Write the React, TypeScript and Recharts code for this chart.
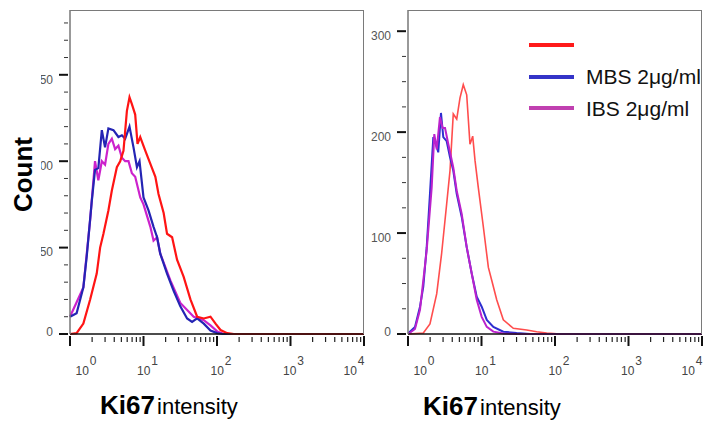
import { LineChart, Line, XAxis, YAxis, Legend } from "recharts";

// x ticks on the log intensity axis (decades + minor ticks)
const xTicks = [
  1, 2, 3, 4, 5, 6, 7, 8, 9,
  10, 20, 30, 40, 50, 60, 70, 80, 90,
  100, 200, 300, 400, 500, 600, 700, 800, 900,
  1000, 2000, 3000, 4000, 5000, 6000, 7000, 8000, 9000,
  10000,
];
const decades = [1, 10, 100, 1000, 10000];
const exponents = ["0", "1", "2", "3", "4"];

const leftYTicks = [0, 10, 20, 30, 40, 50, 60, 70, 80, 90, 100, 110, 120, 130, 140, 150, 160, 170, 180];
const leftYMajor = [0, 50, 100, 150];
const rightYTicks = [0, 25, 50, 75, 100, 125, 150, 175, 200, 225, 250, 275, 300];
const rightYMajor = [0, 100, 200, 300];

const seriesNames = ["", "MBS 2μg/ml", "IBS 2μg/ml"];

// left panel
const leftRedIntensity = [1.0, 1.23, 1.52, 1.88, 2.31, 2.57, 2.85, 3.33, 3.71, 4.34, 4.82, 5.34, 5.94, 6.45, 6.95, 7.71, 8.29, 9.03, 10.6, 12.4, 14.5, 16.0, 18.8, 20.9, 24.5, 28.6, 35.2, 43.5, 53.7, 66.1, 81.5, 95.5, 111.7, 137.8, 169.6, 1000, 10000];
const leftRedCount = [0, 0.5, 6, 20, 35, 50, 58, 71.5, 83, 96.5, 100, 106, 129, 137, 133, 127, 110, 114, 106, 98.5, 91, 81, 70, 58, 56, 43, 33, 20, 10, 9, 10, 6, 2.3, 0.5, 0, 0, 0];

const leftBlueIntensity = [1.0, 1.23, 1.52, 1.69, 1.98, 2.19, 2.43, 2.71, 3.0, 3.33, 3.9, 4.56, 5.08, 5.63, 6.45, 7.31, 8.14, 8.83, 10.0, 11.7, 13.7, 15.3, 16.9, 20.9, 25.7, 31.7, 39.2, 45.8, 53.7, 66.1, 81.5, 100.7, 120, 1000, 10000];
const leftBlueCount = [10, 12, 27, 45, 77, 95, 96, 118, 108, 119, 118, 114, 115, 113, 120, 108, 96.5, 100, 79, 71.5, 62, 56, 46.5, 35, 25, 16, 9, 7, 9, 6, 2, 0.5, 0, 0, 0];

const leftMagentaIntensity = [1.0, 1.52, 1.88, 2.19, 2.43, 2.71, 3.0, 3.33, 3.71, 4.11, 4.56, 5.08, 5.63, 6.25, 6.95, 7.71, 9.03, 10.0, 12.4, 13.7, 15.3, 16.9, 23.2, 31.7, 48.2, 66.1, 81.5, 100.7, 123.9, 1000, 10000];
const leftMagentaCount = [10, 27, 66, 100, 89, 100, 98, 110, 113, 107, 109, 102, 100, 100, 93, 91, 79, 75, 62, 54, 56, 46.5, 31, 18, 10, 8, 5, 1.5, 0, 0, 0];

// right panel
const rightRedIntensity = [1.01, 1.615, 1.99, 2.46, 2.87, 3.36, 3.73, 4.13, 4.6, 5.1, 5.65, 6.29, 6.97, 7.59, 8.16, 9.05, 10.6, 12.4, 13.8, 16.1, 19.8, 27.1, 41.2, 56.4, 77.1, 117, 1000, 10000];
const rightRedCount = [0, 1, 10, 40, 80, 129, 162, 218, 213, 234, 247, 237, 188, 196, 172, 145, 106, 66, 53, 34, 14, 5.6, 4, 2.3, 1, 0, 0, 0];

const rightBlueIntensity = [1.01, 1.245, 1.456, 1.615, 1.796, 1.99, 2.21, 2.4, 2.58, 2.81, 3.02, 3.36, 3.73, 4.13, 4.6, 5.38, 6.29, 7.36, 8.61, 10.06, 11.8, 14.5, 19.8, 30.1, 45.7, 1000, 10000];
const rightBlueCount = [0.7, 7, 27, 47, 86, 139, 195, 188, 180, 219, 195, 191, 175, 162, 139, 116, 86, 60, 37, 27, 14, 7, 2.3, 1, 0, 0, 0];

const rightMagentaIntensity = [1.01, 1.245, 1.456, 1.796, 2.1, 2.28, 2.46, 2.72, 2.96, 3.19, 3.54, 4.13, 4.6, 5.38, 6.29, 7.36, 8.61, 10.06, 11.8, 14.5, 19.8, 30.1, 1000, 10000];
const rightMagentaCount = [0, 5, 24, 83, 145, 198, 183, 215, 204, 204, 188, 165, 142, 119, 86, 60, 34, 17, 7, 2.3, 0.5, 0, 0, 0];

const toPoints = (xs: number[], ys: number[]) => xs.map((x, i) => ({ x, y: ys[i] }));

const FONT = "'Liberation Sans', Arial, sans-serif";
const labelShift = [16, 4, 4, 3, -10];
const legendColors = ["#ff1a1a", "#3434c8", "#c040b0"];

const XTick = (props: any) => {
  const { x, y, payload } = props;
  const i = decades.indexOf(payload.value);
  if (i < 0) {
    return <line x1={x} x2={x} y1={y + 1} y2={y + 6} stroke="#222" strokeWidth={1.2} />;
  }
  return (
    <g>
      <line x1={x} x2={x} y1={y} y2={y + 10} stroke="#111" strokeWidth={2} />
      <text x={x + labelShift[i]} y={y + 39} textAnchor="middle" fontSize={12} fill="#444" fontFamily={FONT}>
        10
        <tspan dx={1} dy={-10}>{exponents[i]}</tspan>
      </text>
    </g>
  );
};

const makeYTick = (majors: number[]) => (props: any) => {
  const { x, y, payload } = props;
  const v = payload.value;
  if (!majors.includes(v)) {
    return <line x1={x - 4} x2={x} y1={y} y2={y} stroke="#333" strokeWidth={1} />;
  }
  const off = v === 0 ? -2.5 : 4.5;
  return (
    <g>
      <line x1={x - 9} x2={x} y1={y} y2={y} stroke="#111" strokeWidth={2} />
      <text x={x - 15} y={y + off + 4.3} textAnchor="end" fontSize={12} fill="#555" fontFamily={FONT}>
        {v}
      </text>
    </g>
  );
};

const LegendBox = () => (
  <div style={{ fontFamily: FONT }}>
    {seriesNames.map((name, i) => (
      <div key={i} style={{ display: "flex", alignItems: "center", height: 31.5 }}>
        <div style={{ width: 45, height: 4, background: legendColors[i], marginRight: 12 }} />
        <span style={{ fontSize: 21, lineHeight: 1, color: "#111", whiteSpace: "nowrap" }}>{name}</span>
      </div>
    ))}
  </div>
);

const Frame = ({ left, width }: { left: number; width: number }) => (
  <div
    style={{
      position: "absolute",
      left,
      top: 10,
      width,
      height: 324,
      borderTop: "1.5px solid #7a7a7a",
      borderRight: "1.5px solid #7a7a7a",
      boxSizing: "border-box",
      pointerEvents: "none",
    }}
  />
);

export default function App() {
  return (
    <div style={{ position: "absolute", left: 0, top: 0, width: 704, height: 421, background: "#fff", fontFamily: FONT, overflow: "hidden" }}>
      <div style={{ position: "absolute", left: 41, top: 0 }}>
        <LineChart width={329} height={421} margin={{ top: 10, right: 6, bottom: 0, left: 0 }}>
          <XAxis
            dataKey="x"
            type="number"
            scale="log"
            domain={[1, 10000]}
            ticks={xTicks}
            interval={0}
            tick={XTick}
            tickSize={0}
            tickLine={false}
            height={87}
            axisLine={{ stroke: "#111", strokeWidth: 1.5 }}
          />
          <YAxis
            type="number"
            domain={[0, 187.5]}
            ticks={leftYTicks}
            interval={0}
            tick={makeYTick(leftYMajor)}
            tickSize={0}
            tickLine={false}
            width={29}
            axisLine={{ stroke: "#777", strokeWidth: 1.5 }}
          />
          <Line data={toPoints(leftMagentaIntensity, leftMagentaCount)} dataKey="y" name={seriesNames[2]} stroke="#cc22cc" strokeWidth={2.2} dot={false} isAnimationActive={false} />
          <Line data={toPoints(leftBlueIntensity, leftBlueCount)} dataKey="y" name={seriesNames[1]} stroke="#2424b4" strokeWidth={2.2} dot={false} isAnimationActive={false} />
          <Line data={toPoints(leftRedIntensity, leftRedCount)} dataKey="y" name="control" stroke="#ff1414" strokeWidth={2.2} dot={false} isAnimationActive={false} />
        </LineChart>
      </div>
      <Frame left={70} width={294} />

      <div style={{ position: "absolute", left: 360, top: 0 }}>
        <LineChart width={344} height={421} margin={{ top: 10, right: 2, bottom: 0, left: 0 }}>
          <XAxis
            dataKey="x"
            type="number"
            scale="log"
            domain={[1, 10000]}
            ticks={xTicks}
            interval={0}
            tick={XTick}
            tickSize={0}
            tickLine={false}
            height={87}
            axisLine={{ stroke: "#111", strokeWidth: 1.5 }}
          />
          <YAxis
            type="number"
            domain={[0, 321]}
            ticks={rightYTicks}
            interval={0}
            tick={makeYTick(rightYMajor)}
            tickSize={0}
            tickLine={false}
            width={48}
            axisLine={{ stroke: "#777", strokeWidth: 1.5 }}
          />
          <Legend
            layout="vertical"
            align="center"
            verticalAlign="middle"
            content={() => <LegendBox />}
            wrapperStyle={{ left: 169, top: 29.5, width: 175 }}
          />
          <Line data={toPoints(rightRedIntensity, rightRedCount)} dataKey="y" name="control" stroke="#ff4d4d" strokeWidth={1.6} dot={false} isAnimationActive={false} />
          <Line data={toPoints(rightBlueIntensity, rightBlueCount)} dataKey="y" name={seriesNames[1]} stroke="#2e2ed0" strokeWidth={2} dot={false} isAnimationActive={false} />
          <Line data={toPoints(rightMagentaIntensity, rightMagentaCount)} dataKey="y" name={seriesNames[2]} stroke="#bb22cc" strokeWidth={2} dot={false} isAnimationActive={false} />
        </LineChart>
      </div>
      <Frame left={408} width={294} />

      <svg width={704} height={421} style={{ position: "absolute", left: 0, top: 0, pointerEvents: "none" }}>
        <text transform="translate(32,174.5) rotate(-90)" textAnchor="middle" fontSize={26} fontWeight="bold" fontFamily={FONT} fill="#000">
          Count
        </text>
        <text x={100} y={413.5} fontSize={26} fontWeight="bold" fontFamily={FONT} fill="#000">
          Ki67
          <tspan fontSize={22} fontWeight="normal" dx={-4}> intensity</tspan>
        </text>
        <text x={423} y={414.5} fontSize={26} fontWeight="bold" fontFamily={FONT} fill="#000">
          Ki67
          <tspan fontSize={22} fontWeight="normal" dx={-4}> intensity</tspan>
        </text>
      </svg>
    </div>
  );
}
